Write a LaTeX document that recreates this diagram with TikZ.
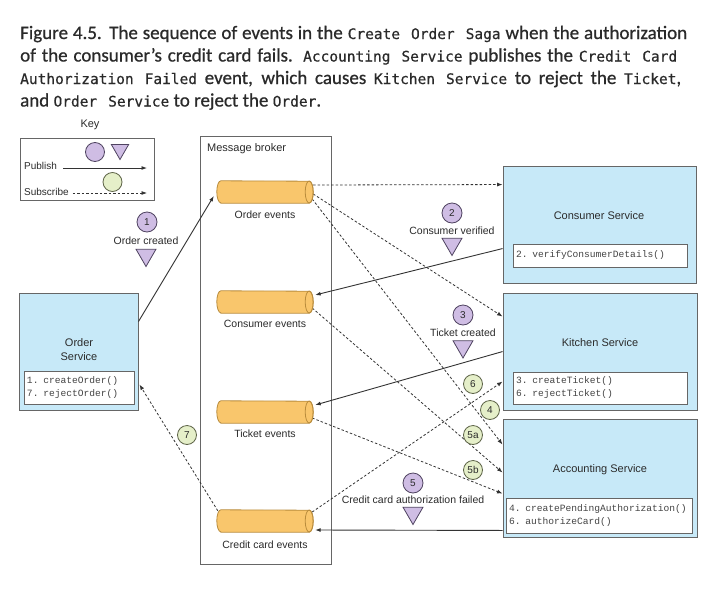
\documentclass[tikz,border=0pt]{standalone}
\usepackage{fontspec}
\setmainfont{Liberation Sans}
\setmonofont{Liberation Mono}
\newfontfamily\capfont[FakeBold=0.7]{Carlito}
\newfontfamily\capmono[FakeBold=0.5]{DejaVu Sans Mono}
\usetikzlibrary{arrows.meta,calc,shapes.geometric}

\definecolor{svcfill}{HTML}{C7E9F8}
\definecolor{svcdraw}{HTML}{666666}
\definecolor{cylfill}{HTML}{F9C66C}
\definecolor{cyldraw}{HTML}{B98C3C}
\definecolor{pubfill}{HTML}{CFBDE4}
\definecolor{pubdraw}{HTML}{4F4360}
\definecolor{subfill}{HTML}{E5EFC9}
\definecolor{subdraw}{HTML}{5E6448}
\definecolor{linec}{HTML}{333333}
\definecolor{textc}{HTML}{2B2B2B}
\definecolor{codec}{HTML}{444444}
\definecolor{capc}{HTML}{2A2A2A}

\newcommand\capm[1]{{\capmono\fontsize{14.5}{22}\selectfont #1}}
\newcommand\capsp{\kern 11pt}

\newcommand\drawcyl[1]{%
  \filldraw[fill=cylfill,draw=cyldraw,line width=0.8pt] (#1.south west) -- (#1.south east)
    arc[start angle=-90,end angle=90,x radius=4,y radius=11] -- (#1.north west)
    arc[start angle=90,end angle=270,x radius=4,y radius=11] -- cycle;
  \draw[draw=cyldraw,line width=0.8pt] (#1.east) ellipse[x radius=4,y radius=11];}

\begin{document}
\begin{tikzpicture}[x=1pt,y=1pt,
  svc/.style={draw=svcdraw,fill=svcfill,line width=0.9pt,inner sep=0},
  frame/.style={draw=svcdraw,line width=0.9pt,inner sep=0},
  codebox/.style={draw=svcdraw,fill=white,line width=0.8pt,inner xsep=3pt,inner ysep=0pt,align=left,
     text=codec,font=\ttfamily\fontsize{9.6}{13}\selectfont},
  lbl/.style={text=textc,font=\fontsize{11}{14}\selectfont,inner sep=0,align=center},
  slbl/.style={text=textc,font=\fontsize{10.5}{12}\selectfont,inner sep=0},
  cylnode/.style={inner sep=0,minimum width=88,minimum height=22},
  pubcirc/.style={circle,draw=pubdraw,fill=pubfill,line width=0.8pt,minimum size=20,inner sep=0,
     text=textc,font=\fontsize{10}{10}\selectfont},
  subcirc/.style={circle,draw=subdraw,fill=subfill,line width=0.8pt,minimum size=19,inner sep=0,
     text=textc,font=\fontsize{10}{10}\selectfont},
  pubtri/.style={regular polygon,regular polygon sides=3,shape border rotate=180,draw=pubdraw,
     fill=pubfill,line width=0.8pt,minimum size=23,inner sep=0},
  publine/.style={draw=linec,line width=0.9pt,-{Latex[length=5.5pt,width=4pt]}},
  subline/.style={draw=linec,line width=0.8pt,dash pattern=on 2.5pt off 2pt,-{Latex[length=5.5pt,width=4pt]}},
  capline/.style={anchor=base west,inner sep=0,text=capc,font=\capfont\fontsize{19}{22}\selectfont}
]
\useasboundingbox (0,0) rectangle (715,-600);
\fill[white] (0,0) rectangle (715,-600);

% caption
\node[capline] (cap1) at (20,-39) {\makebox[667pt][s]{Figure 4.5. The sequence of events in the \capm{Create\capsp Order\capsp Saga} when the authorization}};
\node[capline] (cap2) at (20,-61.5) {\makebox[657pt][s]{of the consumer’s credit card fails. \capm{Accounting\capsp Service} publishes the \capm{Credit\capsp Card}}};
\node[capline] (cap3) at (20,-84) {\makebox[661pt][s]{\capm{Authorization\capsp Failed} event, which causes \capm{Kitchen\capsp Service} to reject the \capm{Ticket},}};
\node[capline] (cap4) at (20,-106.5) {and \capm{Order\capsp Service} to reject the \capm{Order}.};

% key
\node[lbl] (keyt) at (90,-125) {Key};
\node[frame,minimum width=134,minimum height=62] (key) at (87,-169) {};
\node[slbl,anchor=west,font=\fontsize{10}{12}\selectfont] (kpub) at (24,-166) {Publish};
\node[slbl,anchor=west,font=\fontsize{10}{12}\selectfont] (ksub) at (24,-192) {Subscribe};
\coordinate (kpe) at (147,-168);
\coordinate (kse) at (147,-193);
\draw[publine] ($(kpub.east)+(6,-2)$) -- (kpe);
\draw[subline] ($(ksub.east)+(4,-1)$) -- (kse);
\node[pubcirc,minimum size=19] (kc1) at (95,-152) {};
\node[pubtri,minimum size=20] (kt1) at (120,-149.5) {};
\node[subcirc] (kc2) at (112.5,-182) {};

% message broker
\node[frame,minimum width=131,minimum height=428] (broker) at (265.5,-350) {};
\node[lbl,anchor=west] (brokert) at (207,-149) {Message broker};

% services
\node[svc,minimum width=119,minimum height=117] (os) at (78.5,-351.5) {};
\node[lbl] (ost) at (79,-350) {Order\\Service};
\node[codebox,minimum width=110,minimum height=33,text width=104] (osc) at (79,-387.5) {1. createOrder()\\7. rejectOrder()};

\node[svc,minimum width=193,minimum height=117] (cs) at (599.5,-224.5) {};
\node[lbl] (cst) at (599,-216) {Consumer Service};
\node[codebox,minimum width=174,minimum height=23,text width=168] (csc) at (600,-255.5) {2. verifyConsumerDetails()};

\node[svc,minimum width=194,minimum height=117] (ks) at (600,-351.5) {};
\node[lbl] (kst) at (600,-343) {Kitchen Service};
\node[codebox,minimum width=174,minimum height=32,text width=168] (ksc) at (600,-388) {3. createTicket()\\6. rejectTicket()};

\node[svc,minimum width=194,minimum height=118] (as) at (600,-478) {};
\node[lbl] (ast) at (600,-470) {Accounting Service};
\node[codebox,minimum width=186,minimum height=35,text width=180] (asc) at (599,-515.5) {4. createPendingAuthorization()\\6. authorizeCard()};

% cylinder nodes
\node[cylnode] (oe) at (265,-192) {};
\node[cylnode] (ce) at (265,-302) {};
\node[cylnode] (te) at (265,-412) {};
\node[cylnode] (cce) at (265,-521) {};

% connectors
\draw[publine] ($(os.north east)+(0,-29)$) -- ($(oe.west)+(-7,-4)$);
\draw[subline] ($(oe.east)+(4,7)$) -- ($(cs.north west)+(0,-19)$);
\draw[subline] ($(oe.east)+(4,-2)$) -- ($(ks.north west)+(0,-24)$);
\draw[subline] ($(oe.east)+(3,-7)$) -- ($(as.north west)+(0,-26)$);
\draw[publine] ($(cs.north west)+(0,-83)$) -- ($(ce.east)+(6,7)$);
\draw[subline] ($(ce.east)+(3,-6)$) -- ($(as.north west)+(0,-54)$);
\draw[publine] ($(ks.north west)+(0,-59)$) -- ($(te.east)+(6,7)$);
\draw[subline] ($(te.east)+(3,-6)$) -- ($(as.north west)+(0,-75)$);
\draw[subline] ($(cce.east)+(3,9)$) -- ($(ks.north west)+(0,-89)$);
\draw[publine] ($(as.south west)+(0,7)$) -- ($(cce.east)+(6,-9)$);
\draw[subline] ($(cce.north west)+(-3,-1)$) -- ($(os.east)+(1,-33)$);

% cylinders
\drawcyl{oe}
\drawcyl{ce}
\drawcyl{te}
\drawcyl{cce}
\node[slbl] (oet) at (265,-215) {Order events};
\node[slbl] (cet) at (265,-324) {Consumer events};
\node[slbl] (tet) at (265,-434) {Ticket events};
\node[slbl] (ccet) at (265,-545) {Credit card events};

% event labels
\node[pubcirc] (p1) at (147,-222) {1};
\node[slbl] (p1t) at (146,-241) {Order created};
\node[pubtri] (p1v) at (146,-255) {};

\node[pubcirc] (p2) at (452,-213) {2};
\node[slbl] (p2t) at (452,-231) {Consumer verified};
\node[pubtri] (p2v) at (452,-244) {};

\node[pubcirc] (p3) at (463,-315) {3};
\node[slbl] (p3t) at (463,-332.5) {Ticket created};
\node[pubtri] (p3v) at (463,-346.5) {};

\node[pubcirc] (p5) at (413,-483) {5};
\node[slbl] (p5t) at (413,-500) {Credit card authorization failed};
\node[pubtri] (p5v) at (413,-513) {};

\node[subcirc] (s6) at (473,-384) {6};
\node[subcirc] (s4) at (490,-410) {4};
\node[subcirc] (s5a) at (473,-435) {5a};
\node[subcirc] (s5b) at (473,-470) {5b};
\node[subcirc] (s7) at (187,-435) {7};
\end{tikzpicture}
\end{document}
